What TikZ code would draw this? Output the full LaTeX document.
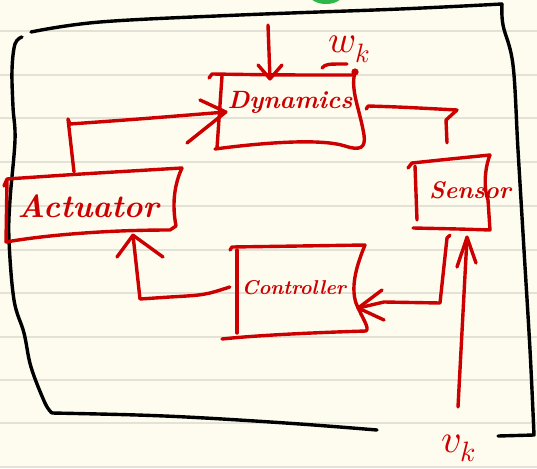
\documentclass[tikz,border=0pt]{standalone}
\usepackage{fontspec}
\usepackage{unicode-math}
\setmathfont{Latin Modern Math}
\usetikzlibrary{calc}
\definecolor{paper}{HTML}{FDFCEE}
\definecolor{rulec}{HTML}{E4E2D6}
\definecolor{ink}{HTML}{CC0000}
\definecolor{blob}{HTML}{2DB84A}
\tikzset{
  rl/.style={draw=ink, line width=3.4pt, line cap=round, line join=round},
  bl/.style={draw=black, line width=3.4pt, line cap=round, line join=round},
  boxarea/.style={draw=none, inner sep=0pt, rectangle},
  lbl/.style={text=ink, inner sep=0pt},
}
\begin{document}
\begin{tikzpicture}[x=1pt,y=-1pt]
\useasboundingbox (0,0) rectangle (537,468);
\fill[paper] (0,0) rectangle (537,468);
\foreach \yy in {31,75,118,162,206,250,293,337,380,423,467}
  \draw[rulec, line width=1.2pt] (0,\yy) -- (537,\yy);
\begin{scope}
\clip (0,0) rectangle (537,468);
\fill[blob] (326,-6) ellipse [x radius=17pt, y radius=10pt];
\end{scope}

% black frame
\draw[bl] plot[smooth, tension=0.6] coordinates {(31,32) (100,22) (240,15) (400,9) (502,4)};
\draw[bl] plot[smooth, tension=0.6] coordinates {(502,4) (503,25) (513,65) (518,150) (524,250) (530,350) (534,435)} -- (498,436);
\draw[bl] plot[smooth, tension=0.6] coordinates {(22,37) (15,44) (12,70) (13,107) (15,140) (10,200) (9,240) (14,300) (24,333) (31,367) (45,403) (52,413)};
\draw[bl] plot[smooth, tension=0.6] coordinates {(52,413) (137,415) (205,418) (300,424) (377,430)};

% box areas (named)
\node[boxarea, minimum width=144pt, minimum height=73pt] (dynB) at (288,111.5) {};
\node[boxarea, minimum width=172pt, minimum height=63pt] (actB) at (92,203.5) {};
\node[boxarea, minimum width=125pt, minimum height=86pt] (ctlB) at (299.5,290) {};
\node[boxarea, minimum width=74pt, minimum height=69pt] (senB) at (452,194.5) {};

% hand-drawn outlines
% Dynamics
\draw[rl] (209,78) -- (212,74) .. controls (280,75) .. (353,75);
\fill[ink] (355,72) circle (3.6pt);
\draw[rl] (222,76) -- (217,148);
\draw[rl] (215,149) .. controls (260,143) and (320,138) .. (345,146) .. controls (360,151) and (366,148) .. (364,135) .. controls (360,110) and (350,90) .. (355,72);
% Actuator
\draw[rl] (4,186) -- (7,179) .. controls (80,174) .. (182,168) .. controls (174,185) and (172,205) .. (176,226) -- (170,230) .. controls (100,230) and (40,236) .. (6,242);
\draw[rl] (7,180) -- (6,242);
% Controller
\draw[rl] (230,250) -- (232,247) .. controls (300,246) .. (365,245) .. controls (358,262) and (350,285) .. (356,303) .. controls (362,318) and (370,328) .. (366,331) .. controls (300,333) and (250,336) .. (222,339);
\draw[rl] (237,250) -- (237,333);
% Sensor
\draw[rl] (408,168) -- (412,163) .. controls (450,159) .. (490,155) .. controls (484,170) and (484,190) .. (488,200) -- (490,230) .. controls (460,229) .. (413,228);
\draw[rl] (415,166) -- (417,220);

% texts
\node[lbl, font=\bfseries\itshape\fontsize{25}{25}\selectfont] (dyn) at (290,102) {Dynamics};
\node[lbl, font=\bfseries\itshape\fontsize{32}{32}\selectfont] (act) at (88,206) {Actuator};
\node[lbl, font=\bfseries\itshape\fontsize{20}{20}\selectfont] (ctl) at (294,288) {Controller};
\node[lbl, font=\bfseries\itshape\fontsize{24}{24}\selectfont] (sen) at (470,190) {Sensor};
\node[lbl, font=\fontsize{38}{38}\selectfont, anchor=base] (wk) at (349,53) {$w_k$};
\node[lbl, font=\fontsize{40}{40}\selectfont, anchor=base] (vk) at (459,452) {$v_k$};
\draw[rl] (322,68) .. controls (326,64) .. (347,64);

% connectors
% input from top into Dynamics
\coordinate (win) at (268,25);
\coordinate (t1) at ($(dynB.north -| 270,0)+(0,4)$);
\draw[rl] (win) -- (t1);
\draw[rl] (258,65) -- (t1) -- (282,65);
% Actuator -> Dynamics
\coordinate (t2) at ($(dynB.west |- 0,112)+(10,0)$);
\draw[rl] (actB.north -| 74,0) -- (68,119) -- (70,124) .. controls (140,119) .. (t2);
\draw[rl] (200,100) -- (t2) -- (187,143);
% Controller -> Actuator
\coordinate (t3) at (actB.south -| 133,0);
\draw[rl] ($(ctlB.west |- 0,287)+(-7,0)$) .. controls (205,295) .. (170,297) -- (140,299) -- (t3);
\draw[rl] (117,257) -- (t3) -- (163,257);
% Sensor -> Controller
\coordinate (t4) at ($(ctlB.east |- 0,308)+(-4,0)$);
\draw[rl] ($(senB.south -| 450,0)+(0,6)$) -- (447,238) -- (440,303) -- (384,302) -- (t4);
\draw[rl] (382,290) -- (t4) -- (384,320);
% Sensor -> Dynamics (no head)
\draw[rl] ($(senB.north -| 447,0)+(0,-17)$) -- (446,120) -- (457,110) .. controls (400,107) .. ($(dynB.east |- 0,106)+(8,0)$) -- ++(-2,3);
% v_k -> Sensor
\coordinate (vin) at (458,407);
\coordinate (t6) at ($(senB.south -| 467,0)+(0,8)$);
\draw[rl] (vin) -- (t6);
\draw[rl] (457,267) -- (t6) -- (476,263);
\end{tikzpicture}
\end{document}
